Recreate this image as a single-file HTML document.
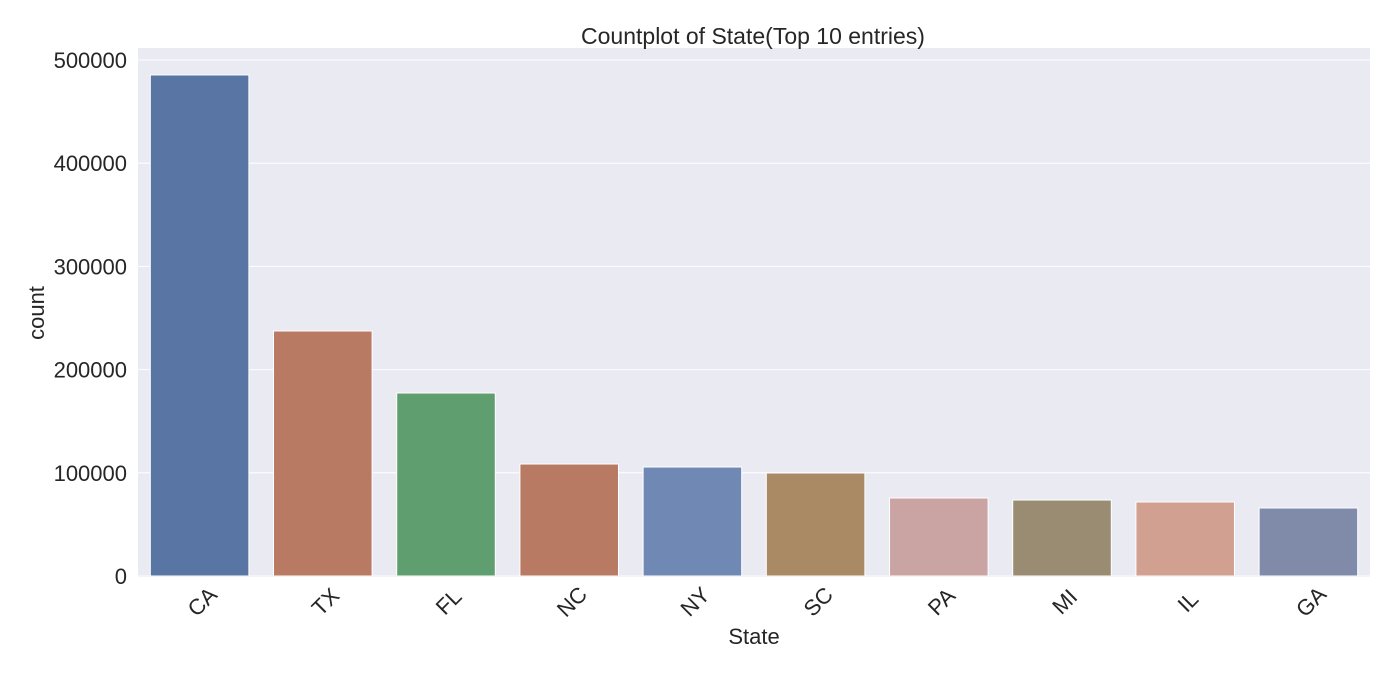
<!DOCTYPE html>
<html><head><meta charset="utf-8"><style>
body{margin:0;background:#fff;}
svg{display:block;font-family:"Liberation Sans",sans-serif;}
</style></head><body>
<svg width="1400" height="676">
<rect x="138" y="48" width="1232" height="529" fill="#eaeaf2"/>
<g id="grid"></g><g id="bars"></g><g id="yt"></g><g id="xt"></g>
<text x="753" y="44" font-size="23" text-anchor="middle" fill="#262626">Countplot of State(Top 10 entries)</text>
<text x="754" y="644" font-size="22" text-anchor="middle" fill="#262626">State</text>
<text transform="translate(44,313) rotate(-90)" font-size="22" text-anchor="middle" fill="#262626">count</text>
</svg>
<script>
const categories=["CA","TX","FL","NC","NY","SC","PA","MI","IL","GA"];
const counts=[485500,237400,177300,108500,105600,99800,75600,73600,71700,65900];
const yTicks=[0,100000,200000,300000,400000,500000];
const colors=["#5875a4","#b87a62","#5f9e6e","#b87a62","#6f88b4","#a98a64","#c9a4a2","#9a8c72","#d2a090","#7f8ba8"];
const NS="http://www.w3.org/2000/svg";
const x0=138,w=1232,y0=576,pxPer=516/500000;
const y=v=>y0-v*pxPer;
const band=w/categories.length;
const xc=i=>x0+band*(i+0.5);
function mk(t,a,p){const e=document.createElementNS(NS,t);for(const k in a)e.setAttribute(k,a[k]);document.getElementById(p).appendChild(e);return e;}
yTicks.forEach(t=>{
 const l=mk("line",{x1:x0,x2:x0+w,y1:y(t),y2:y(t),stroke:"#fff","stroke-width":1},"grid");
 
 
 const tx=mk("text",{x:127,y:y(t)+8,"font-size":22,"text-anchor":"end",fill:"#262626"},"yt");
 tx.textContent=t;
 
 
});
categories.forEach((c,i)=>{
 const bw=band*0.8;
 const r=mk("rect",{x:xc(i)-bw/2,y:y(counts[i]),width:bw,height:y0-y(counts[i]),fill:colors[i],stroke:"#fff","stroke-width":1},"bars");
 
 
 const t=mk("text",{transform:`translate(${xc(i)+8},${607}) rotate(-45)`,"font-size":22,"text-anchor":"middle",fill:"#262626"},"xt");
 t.textContent=c;
 
 
});
</script>
</body></html>
